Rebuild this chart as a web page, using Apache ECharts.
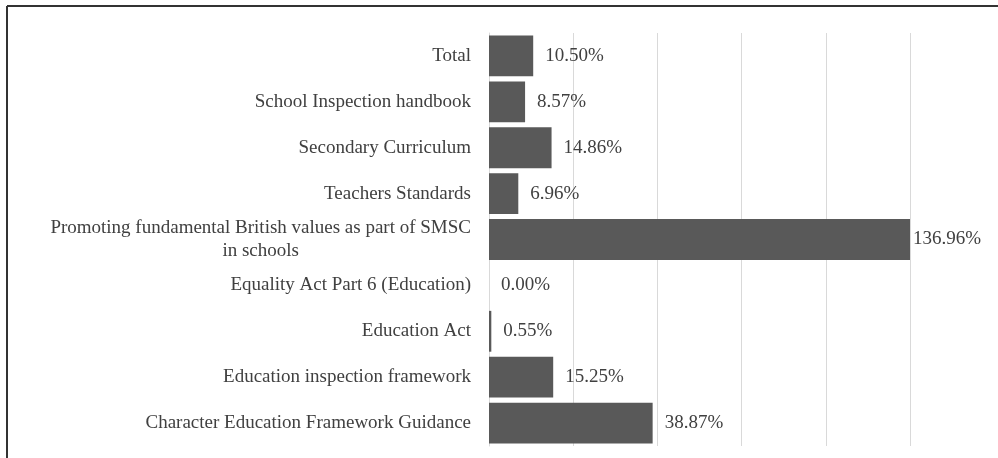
<!DOCTYPE html>
<html>
<head>
<meta charset="utf-8">
<script src="https://cdn.jsdelivr.net/npm/echarts@6/dist/echarts.min.js"></script>
<style>
	html, body { margin: 0; padding: 0; background: #fff; }
	#chart { width: 998px; height: 458px; }
</style>
</head>
<body>
<div id="chart"></div>
<script>
// 数据
const categories = [
	"Total",
	"School Inspection handbook",
	"Secondary Curriculum",
	"Teachers Standards",
	"Promoting fundamental British values as part of SMSC\nin schools",
	"Equality Act Part 6 (Education)",
	"Education Act",
	"Education inspection framework",
	"Character Education Framework Guidance"
];
const values = [10.50, 8.57, 14.86, 6.96, 136.96, 0.00, 0.55, 15.25, 38.87];
const axisMax = 100;

(function () {
	let myChart = echarts.init(document.getElementById('chart'))
	const font = "'Liberation Serif', 'Times New Roman', serif"

	// 超出最大值的柱子会被裁掉, 标签贴近一点
	const barData = values.map(function (v) {
		return v > axisMax ? { value: v, label: { distance: 3 } } : v
	})

	const option = {
		animation: false,
		grid: {
			left: 489,
			right: 88,
			top: 33,
			bottom: 12
		},
		xAxis: {
			type: 'value',
			min: 0,
			max: axisMax,
			interval: 20,
			axisLabel: { show: false },
			axisTick: { show: false },
			axisLine: { show: false },
			splitLine: {
				lineStyle: { color: '#d9d9d9', width: 1 }
			}
		},
		yAxis: {
			type: 'category',
			inverse: true,
			data: categories,
			axisTick: { show: false },
			axisLine: {
				lineStyle: { color: '#d9d9d9' }
			},
			axisLabel: {
				margin: 18,
				color: '#404040',
				fontFamily: font,
				fontSize: 19,
				lineHeight: 23,
				// 两行的标签第二行居中
				formatter: function (val) {
					const parts = val.split('\n')
					if (parts.length < 2) return val
					return '{a|' + parts[0] + '}\n{b|' + parts[1] + '}'
				},
				rich: {
					a: { fontFamily: font, fontSize: 19, lineHeight: 23, color: '#404040' },
					b: { fontFamily: font, fontSize: 19, lineHeight: 23, color: '#404040', align: 'center' }
				}
			}
		},
		series: [
			{
				type: 'bar',
				data: barData,
				barCategoryGap: '11%',
				clip: true,
				itemStyle: {
					color: '#595959'
				},
				label: {
					show: true,
					position: 'right',
					distance: 12,
					color: '#404040',
					fontFamily: font,
					fontSize: 19,
					formatter: function (p) {
						return p.value.toFixed(2) + '%'
					}
				}
			}
		],
		// 外框
		graphic: [
			{ type: 'line', shape: { x1: 7, y1: 6, x2: 998, y2: 6 }, style: { stroke: '#333', lineWidth: 2 } },
			{ type: 'line', shape: { x1: 7, y1: 6, x2: 7, y2: 458 }, style: { stroke: '#333', lineWidth: 2 } }
		]
	}
	myChart.setOption(option)
	window.addEventListener("resize", function () {
		myChart.resize();
	})
})();
</script>
</body>
</html>
